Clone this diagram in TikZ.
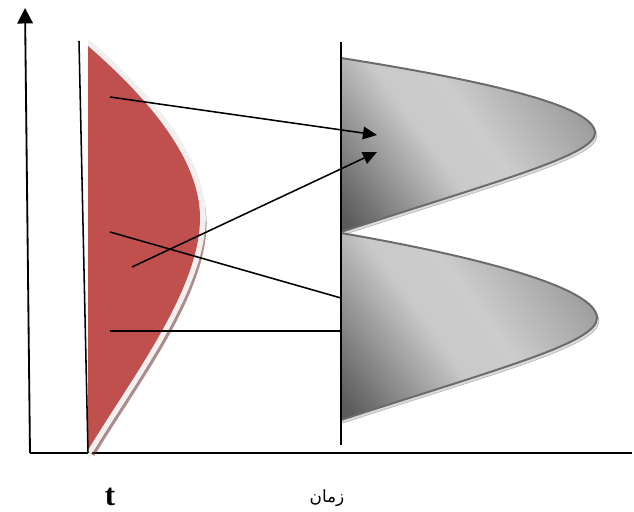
\documentclass[tikz,border=0pt]{standalone}
\usepackage{fontspec}
\setmainfont{Liberation Serif}
\newfontfamily\arabicfont[Script=Arabic]{DejaVu Sans}
\TeXXeTstate=1
\usetikzlibrary{arrows.meta}

\definecolor{profilered}{HTML}{C0504D}
\pgfdeclarehorizontalshading{steelshade}{100bp}{color(0bp)=(black!70); color(18bp)=(black!64); color(43bp)=(black!21); color(54bp)=(black!20); color(86bp)=(black!48); color(100bp)=(black!48)}

\begin{document}
\begin{tikzpicture}[x=0.025cm,y=-0.025cm,
    axisline/.style={line width=1.3pt},
    guide/.style={line width=1.1pt},
    link/.style={guide,-{Triangle[length=10pt,width=9pt]}},
    lobe/.style={shading=steelshade,shading angle=36,draw=black!58,line width=1.4pt},
    lobeshadow/.style={fill=black!14,draw=black!30,line width=0.4pt}]
  \useasboundingbox (0,0) rectangle (634,512);

  % axes
  \coordinate (origin) at (30,453);
  \coordinate (ytip) at (25,8);
  \coordinate (xend) at (632,453);
  \draw[axisline,-{Triangle[length=11pt,width=11pt]}] (origin) -- (ytip);
  \draw[axisline] (origin) -- (xend);

  % red profile with its band and shadow
  \draw[shift={(5,5)},line width=2.2pt,draw=profilered!55!black,opacity=0.55]
    (88,46) .. controls (150,100) and (200,160) .. (200,218)
            .. controls (200,290) and (130,380) .. (88,450);
  \filldraw[shift={(3,-1)},fill=black!6,draw=black!6,line width=4pt]
    (88,46) .. controls (150,100) and (200,160) .. (200,218)
            .. controls (200,290) and (130,380) .. (88,450) -- cycle;
  \fill[profilered]
    (88,46) .. controls (150,100) and (200,160) .. (200,218)
            .. controls (200,290) and (130,380) .. (88,450) -- cycle;

  % left wall
  \coordinate (lwalltop) at (79,41);
  \coordinate (lwallbot) at (88,453);
  \draw[guide] (lwalltop) -- (lwallbot);

  % gray lobes
  \filldraw[lobeshadow,shift={(2,3)}]
    (341,58) .. controls (480,80) and (595,105) .. (595,133)
             .. controls (595,155) and (500,180) .. (341,232) -- cycle;
  \filldraw[lobe]
    (341,58) .. controls (480,80) and (595,105) .. (595,133)
             .. controls (595,155) and (500,180) .. (341,232) -- cycle;
  \filldraw[lobeshadow,shift={(2,3)}]
    (341,233) .. controls (480,257) and (597,288) .. (597,318)
              .. controls (597,343) and (500,368) .. (341,420) -- cycle;
  \filldraw[lobe]
    (341,233) .. controls (480,257) and (597,288) .. (597,318)
              .. controls (597,343) and (500,368) .. (341,420) -- cycle;

  % right wall
  \coordinate (rwalltop) at (341,42);
  \coordinate (rwallbot) at (341,445);
  \draw[guide] (rwalltop) -- (rwallbot);

  % connectors
  \coordinate (a1) at (110,97);
  \coordinate (b1) at (377,135);
  \coordinate (a2) at (132,267);
  \coordinate (b2) at (377,152);
  \coordinate (a3) at (110,232);
  \coordinate (b3) at (341,298);
  \coordinate (a4) at (110,331);
  \coordinate (b4) at (341,331);
  \draw[link] (a1) -- (b1);
  \draw[link] (a2) -- (b2);
  \draw[guide] (a3) -- (b3);
  \draw[guide] (a4) -- (b4);

  % labels
  \node[font=\fontsize{22}{24}\selectfont\bfseries,anchor=base,inner sep=0pt] (tlabel) at (110,505) {t};
  \node[font=\arabicfont\fontsize{12}{14}\selectfont,anchor=base,inner sep=0pt] (timelabel) at (327,502) {\beginR زمان\endR};
\end{tikzpicture}
\end{document}
